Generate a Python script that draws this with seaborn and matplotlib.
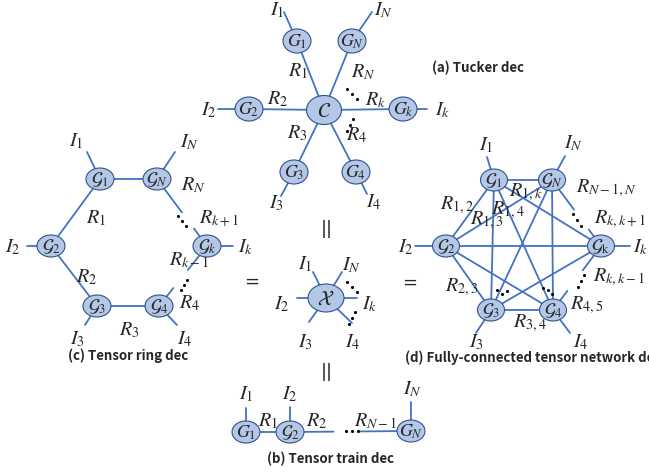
import pandas as pd
import matplotlib.pyplot as plt
import seaborn as sns
from matplotlib.patches import Ellipse

sns.set_theme(style="white")
plt.rcParams["mathtext.fontset"] = "stix"
plt.rcParams["font.family"] = ["Noto Sans CJK SC", "DejaVu Sans"]

LINE = "#4472c4"
FILL = "#b4c7e7"
EDGE = "#2f528f"

# ---- (a) Tucker ----
tucker_nodes = {
    "C": (324, 110), "G1": (297, 41), "GN": (352, 41), "G2": (249, 109),
    "Gk": (403, 109), "G3": (294, 172), "G4": (356, 172),
}
tucker_text = {"C": r"$\mathcal{C}$", "G1": "$G_1$", "GN": "$G_N$", "G2": "$G_2$",
               "Gk": "$G_k$", "G3": "$G_3$", "G4": "$G_4$"}
tucker_edges = [("C", "G1"), ("C", "GN"), ("C", "G2"), ("C", "Gk"), ("C", "G3"), ("C", "G4")]
tucker_leads = [("G1", (284, 12)), ("GN", (372, 12)), ("G2", (218, 109)),
                ("Gk", (427, 109)), ("G3", (281, 196)), ("G4", (367, 194))]
tucker_labels = [("$I_1$", 277, 10), ("$I_N$", 384, 10), ("$R_1$", 298, 71), ("$R_N$", 363, 72),
                 ("$R_2$", 278, 99), ("$R_k$", 376, 100), ("$I_2$", 209, 110), ("$I_k$", 443, 110),
                 ("$R_3$", 297, 133), ("$R_4$", 357, 135), ("$I_3$", 276, 203), ("$I_4$", 374, 202)]
tucker_dots = [(347, 89), (352, 94), (357, 99), (353, 119), (350, 125), (347, 131)]

# ---- (c) Tensor ring ----
ring_nodes = {
    "G1": (100, 179), "GN": (157, 179), "G2": (51, 246), "Gk": (207, 246),
    "G3": (97, 306), "G4": (159, 306),
}
ring_text = {k: r"$\mathcal{G}_%s$" % k[1:] for k in ring_nodes}
ring_edges = [("G1", "GN", None), ("G1", "G2", None), ("G2", "G3", None), ("G3", "G4", None),
              ("GN", "Gk", (0.5, 0.74)), ("G4", "Gk", (0.3, 0.6))]
ring_leads = [("G1", (87, 152)), ("GN", (175, 152)), ("G2", (27, 246)), ("Gk", (233, 246)),
              ("G3", (85, 325)), ("G4", (177, 325))]
ring_labels = [("$I_1$", 76, 141), ("$I_N$", 190, 142), ("$R_N$", 193, 185), ("$R_1$", 96, 218),
               ("$R_{k+1}$", 219, 219), ("$I_2$", 13, 247), ("$I_k$", 246, 247),
               ("$R_{k-1}$", 189, 260), ("$R_2$", 87, 277), ("$R_4$", 190, 303),
               ("$R_3$", 129, 330), ("$I_3$", 77, 339), ("$I_4$", 185, 339)]
ring_dots = [(178, 216), (182, 221), (186, 226), (181, 290), (184, 285), (187, 280)]

# ---- (d) Fully-connected tensor network ----
fctn_nodes = {
    "G1": (494, 180), "GN": (552, 180), "G2": (446, 246), "Gk": (601, 246),
    "G3": (491, 310), "G4": (553, 310),
}
fctn_text = {"G1": r"$\mathcal{G}_1$", "GN": r"$\mathcal{G}_N$", "G2": r"$\mathcal{G}_2$",
             "Gk": r"$\mathcal{G}_{\mathrm{k}}$", "G3": r"$\mathcal{G}_3$", "G4": r"$\mathcal{G}_4$"}
fctn_edges = [("G1", "GN", None), ("G1", "G2", None), ("G1", "G3", None), ("G1", "G4", None),
              ("G1", "Gk", None), ("GN", "G2", None), ("GN", "G3", None), ("GN", "G4", None),
              ("GN", "Gk", (0.45, 0.75)), ("G2", "Gk", None), ("G2", "G3", None),
              ("G2", "G4", None), ("G3", "G4", None), ("G3", "Gk", None),
              ("G4", "Gk", (0.3, 0.62))]
fctn_leads = [("G1", (487, 157)), ("GN", (565, 156)), ("G2", (415, 246)), ("Gk", (630, 246)),
              ("G3", (476, 333)), ("G4", (570, 333))]
fctn_labels = [("$I_1$", 486, 145), ("$I_N$", 574, 143), ("$R_{N-1,N}$", 606, 188),
               ("$R_{1,k}$", 526, 192), ("$R_{1,2}$", 457, 205), ("$R_{1,4}$", 508, 210),
               ("$R_{1,3}$", 487, 220), ("$R_{k,k+1}$", 620, 219), ("$I_2$", 406, 247),
               ("$I_k$", 641, 247), ("$R_{k,k-1}$", 619, 277), ("$R_{2,3}$", 462, 287),
               ("$R_{4,5}$", 587, 305), ("$R_{3,4}$", 530, 323), ("$I_3$", 476, 342),
               ("$I_4$", 581, 342)]
fctn_dots = [(573, 214), (577, 220), (581, 226), (578, 287), (581, 281), (584, 275),
             (497, 290), (502, 294), (507, 291), (543, 288), (548, 290), (552, 294)]

# ---- full tensor X ----
x_node = (326, 298)
x_leads = [(313, 272), (342, 272), (297, 298), (357, 298), (309, 322), (352, 323)]
x_labels = [("$I_1$", 305, 264), ("$I_N$", 352, 265), ("$I_2$", 282, 304), ("$I_k$", 370, 304),
            ("$I_3$", 305, 342), ("$I_4$", 353, 342)]
x_dots = [(347, 282), (352, 287), (357, 292), (355, 312), (352, 318), (349, 324)]

# ---- (b) Tensor train ----
tt_nodes = {"G1": (246, 432), "G2": (290, 432), "GN": (411, 431)}
tt_text = {"G1": "$G_1$", "G2": r"$\mathcal{G}_2$", "GN": "$G_N$"}
tt_edges = [("G1", "G2", None), ("G2", "GN", (0.36, 0.58))]
tt_leads = [("G1", (246, 408)), ("G2", (290, 407)), ("GN", (411, 402))]
tt_labels = [("$I_1$", 246, 394), ("$I_2$", 290, 394), ("$I_N$", 413, 389), ("$R_1$", 268, 421),
             ("$R_2$", 317, 421), ("$R_{N-1}$", 376, 421)]
tt_dots = [(346, 431), (352, 431), (358, 431)]

captions = [("(a) Tucker dec", 432, 68), ("(c) Tensor ring dec", 68, 356),
            ("(d) Fully-connected tensor network dec", 405, 358), ("(b) Tensor train dec", 267, 459)]
symbols = [("=", 252, 282), ("=", 410, 283), ("||", 327, 229), ("||", 327, 372)]

# build line segments
segs = []


def add_edges(nodes, edges):
    for a, b, gap in edges:
        (x0, y0), (x1, y1) = nodes[a], nodes[b]
        if gap is None:
            segs.append([(x0, y0), (x1, y1)])
        else:
            t0, t1 = gap
            segs.append([(x0, y0), (x0 + t0 * (x1 - x0), y0 + t0 * (y1 - y0))])
            segs.append([(x0 + t1 * (x1 - x0), y0 + t1 * (y1 - y0)), (x1, y1)])


def add_leads(nodes, leads):
    for n, end in leads:
        segs.append([nodes[n], end])


add_edges(tucker_nodes, [(a, b, None) for a, b in tucker_edges])
add_leads(tucker_nodes, tucker_leads)
add_edges(ring_nodes, ring_edges)
add_leads(ring_nodes, ring_leads)
add_edges(fctn_nodes, fctn_edges)
add_leads(fctn_nodes, fctn_leads)
add_edges(tt_nodes, tt_edges)
add_leads(tt_nodes, tt_leads)
for end in x_leads:
    segs.append([x_node, end])

rows = []
for i, s in enumerate(segs):
    for j, (x, y) in enumerate(s):
        rows.append({"x": x, "y": y, "seg": i, "order": j})
lines = pd.DataFrame(rows)

fig = plt.figure(figsize=(6.49, 4.75), dpi=100)
ax = fig.add_axes([0, 0, 1, 1])

sns.lineplot(data=lines, x="x", y="y", units="seg", estimator=None, sort=False,
             color=LINE, lw=1.3, ax=ax, zorder=1)

dots = pd.DataFrame(tucker_dots + ring_dots + fctn_dots + x_dots + tt_dots, columns=["x", "y"])
sns.scatterplot(data=dots, x="x", y="y", color="black", s=5, linewidth=0, ax=ax, zorder=3)


def draw_nodes(nodes, texts, w=28, h=23, fs=13):
    for k, (x, y) in nodes.items():
        ax.add_patch(Ellipse((x, y), w, h, facecolor=FILL, edgecolor=EDGE, lw=0.8, zorder=2))
        ax.text(x, y + 1, texts[k], ha="center", va="center", fontsize=fs, zorder=4)


tucker_small = {k: v for k, v in tucker_nodes.items() if k != "C"}
draw_nodes(tucker_small, tucker_text, 28, 24)
draw_nodes({"C": tucker_nodes["C"]}, tucker_text, 35, 29, 15)
draw_nodes(ring_nodes, ring_text, 28, 22)
draw_nodes(fctn_nodes, fctn_text, 27, 22)
draw_nodes(tt_nodes, tt_text, 28, 22)
draw_nodes({"X": x_node}, {"X": r"$\mathcal{X}$"}, 36, 28, 15)

for lab in [tucker_labels, ring_labels, fctn_labels, x_labels, tt_labels]:
    for t, x, y in lab:
        ax.text(x, y, t, ha="center", va="center", fontsize=14.5, zorder=5)

for t, x, y in symbols:
    ax.text(x, y, t, ha="center", va="center", fontsize=13, family="DejaVu Sans", zorder=5)

for t, x, y in captions:
    ax.text(x, y, t, ha="left", va="center", fontsize=9.5, weight="bold", zorder=5)

ax.set_xlim(0, 649)
ax.set_ylim(475, 0)
ax.set_aspect("auto")
ax.axis("off")

plt.savefig("out.png", dpi=100)
